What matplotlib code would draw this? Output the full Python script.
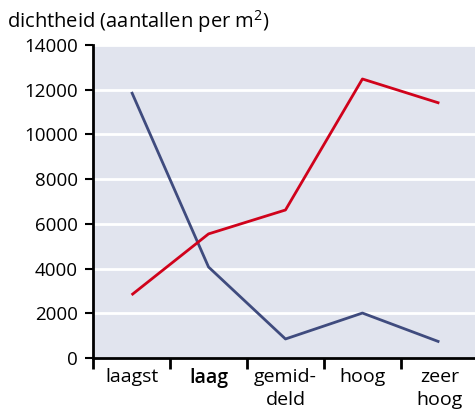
import matplotlib
matplotlib.use("Agg")
import matplotlib.pyplot as plt
from matplotlib.ticker import FixedLocator

categories = ["laagst", "laag", "gemid-\ndeld", "hoog", "zeer\nhoog"]
blue_values = [11900, 4070, 850, 2010, 720]
red_values = [2820, 5550, 6620, 12480, 11400]
y_ticks = [0, 2000, 4000, 6000, 8000, 10000, 12000, 14000]
y_title = "dichtheid (aantallen per m$^{2}$)"

plt.rcParams['font.family'] = ['Open Sans', 'DejaVu Sans']
plt.rcParams['mathtext.fontset'] = 'custom'
plt.rcParams['mathtext.rm'] = 'Open Sans'
plt.rcParams['mathtext.default'] = 'rm'

fig = plt.figure(figsize=(4.75, 4.11), dpi=100)
ax = fig.add_axes([0.196, 0.129, 0.81, 0.7615])
ax.set_facecolor("#e1e4ee")

x = list(range(len(categories)))
ax.plot(x, blue_values, color="#3f4b7e", lw=2, solid_capstyle='butt', zorder=3)
ax.plot(x, red_values, color="#d0021b", lw=2, solid_capstyle='butt', zorder=3)

ax.set_xlim(-0.5, 4.5)
ax.set_ylim(0, 14000)
ax.set_yticks(y_ticks)
ax.set_yticklabels([str(v) for v in y_ticks], fontsize=13.5)
ax.yaxis.grid(True, color="white", lw=2)
ax.set_axisbelow(True)

ax.set_xticks(x)
ax.set_xticklabels(categories, fontsize=14, linespacing=1.4, va='top')
ax.get_xticklabels()[1].set_fontweight('semibold')
ax.tick_params(axis='x', which='major', length=0, pad=7)
ax.xaxis.set_minor_locator(FixedLocator([-0.5, 0.5, 1.5, 2.5, 3.5]))
ax.tick_params(axis='x', which='minor', length=8, width=2, direction='out', color='black')
ax.tick_params(axis='y', length=6, width=1.5, direction='out', pad=5)

for s in ['top', 'right']:
    ax.spines[s].set_visible(False)
ax.spines['left'].set_linewidth(2)
ax.spines['bottom'].set_linewidth(2)

fig.text(7/475, 1 - 28/411, y_title, fontsize=14.5, va='baseline', ha='left')

fig.savefig("out.png", dpi=100)
